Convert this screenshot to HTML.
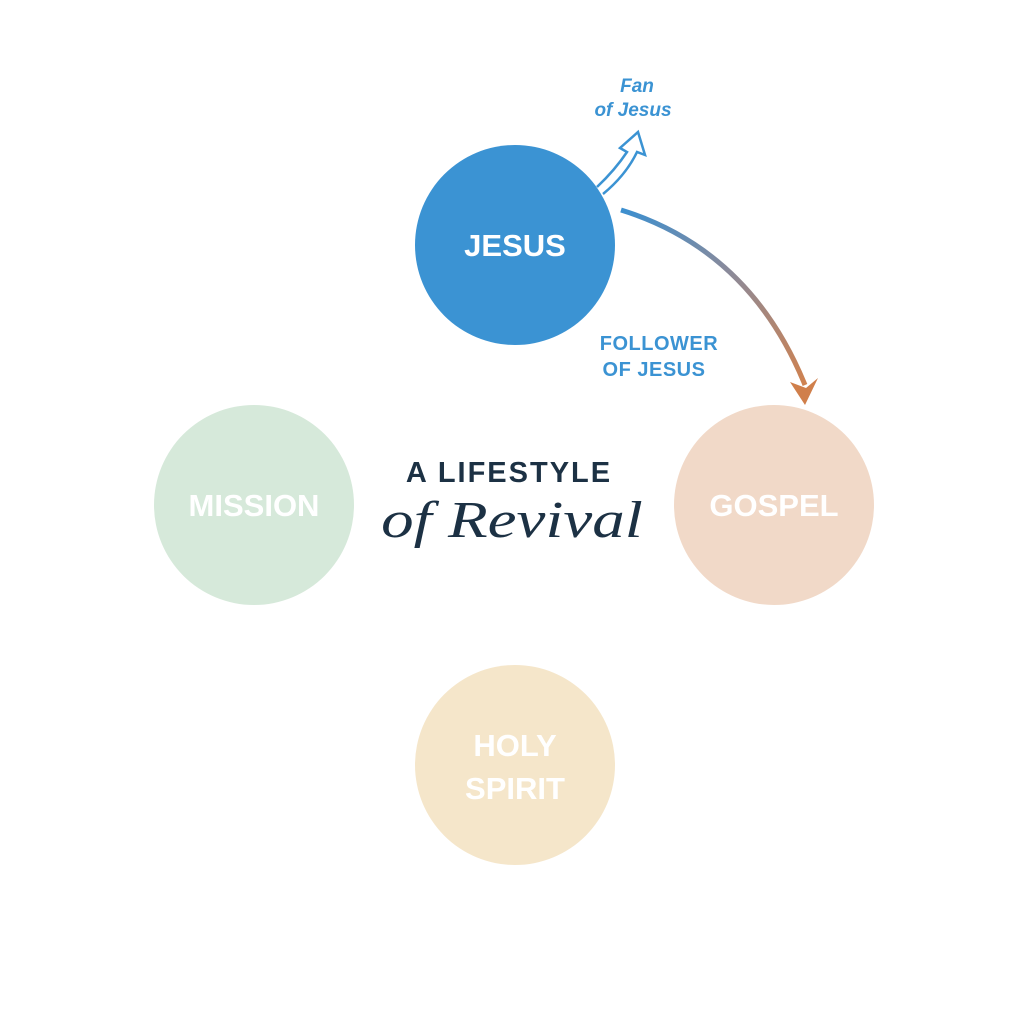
<!DOCTYPE html>
<html><head><meta charset="utf-8"><style>
html,body{margin:0;padding:0;background:#fff;width:1024px;height:1024px;overflow:hidden}
</style></head><body>
<svg width="1024" height="1024" viewBox="0 0 1024 1024" xmlns="http://www.w3.org/2000/svg">
<defs>
<linearGradient id="g" x1="620" y1="210" x2="805" y2="400" gradientUnits="userSpaceOnUse">
<stop offset="0" stop-color="#3b8fd0"/><stop offset="0.45" stop-color="#8a8a9a"/><stop offset="1" stop-color="#d5814a"/>
</linearGradient>
</defs>
<rect width="1024" height="1024" fill="#fff"/>
<circle cx="515" cy="245" r="100" fill="#3b93d3"/>
<circle cx="254" cy="505" r="100" fill="#d6e9da"/>
<circle cx="774" cy="505" r="100" fill="#f1d9c8"/>
<circle cx="515" cy="765" r="100" fill="#f5e6ca"/>
<g font-family="Liberation Sans, sans-serif" font-weight="bold" fill="#fff" text-anchor="middle">
<text x="515" y="256" font-size="31">JESUS</text>
<text x="254" y="516" font-size="31">MISSION</text>
<text x="774" y="516" font-size="31">GOSPEL</text>
<text x="515" y="756" font-size="31">HOLY</text>
<text x="515" y="799" font-size="31">SPIRIT</text>
</g>
<path d="M597 187 Q615 170 627 152 L620 148 L638 132 L645 155 L637 152 Q626 175 603 194" fill="#fff" stroke="#3b93d3" stroke-width="2.5" stroke-linejoin="miter"/>
<text x="637" y="92" font-family="Liberation Sans, sans-serif" font-style="italic" font-weight="bold" font-size="19" fill="#3b93d3" text-anchor="middle">Fan</text>
<text x="633" y="116" font-family="Liberation Sans, sans-serif" font-style="italic" font-weight="bold" font-size="19" fill="#3b93d3" text-anchor="middle">of Jesus</text>
<path d="M621 210 Q750 250 805 385" fill="none" stroke="url(#g)" stroke-width="5"/>
<path d="M790 382 L805 405 L818 378 L806 388 Z" fill="#d07f4b"/>
<text x="659" y="350" font-family="Liberation Sans, sans-serif" font-weight="bold" font-size="20" letter-spacing="0.5" fill="#3b93d3" text-anchor="middle">FOLLOWER</text>
<text x="654" y="376" font-family="Liberation Sans, sans-serif" font-weight="bold" font-size="20" letter-spacing="0.5" fill="#3b93d3" text-anchor="middle">OF JESUS</text>
<text x="509" y="482" font-family="Liberation Sans, sans-serif" font-weight="bold" font-size="29" letter-spacing="2" fill="#1c3144" text-anchor="middle">A LIFESTYLE</text>
<text x="0" y="0" transform="translate(512 537) scale(1.25 1)" font-family="Liberation Serif, serif" font-style="italic" font-size="52" fill="#1c3144" text-anchor="middle">of Revival</text>
</svg>
</body></html>
